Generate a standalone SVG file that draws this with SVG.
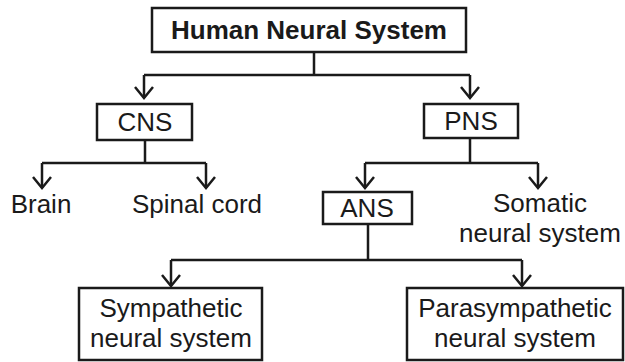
<svg xmlns="http://www.w3.org/2000/svg" width="625" height="362" viewBox="0 0 625 362">
<style>
.box{fill:#fff;stroke:#1a1a1a;stroke-width:2.5}
.ln{fill:none;stroke:#1a1a1a;stroke-width:2.5;stroke-linejoin:miter}
.t{font-family:"Liberation Sans",Arial,sans-serif;font-size:26px;fill:#1a1a1a;text-anchor:middle}
.b{font-weight:bold;font-size:26px}
</style>
<defs>
<marker id="ah" viewBox="-13 -11 15 22" refX="0" refY="0" markerWidth="15" markerHeight="22" markerUnits="userSpaceOnUse" orient="auto">
<path d="M-11,-9 L0,0 L-11,9" fill="none" stroke="#1a1a1a" stroke-width="2.5"/>
</marker>
</defs>
<rect width="625" height="362" fill="#fff"/>
<g id="connectors">
<path class="ln" d="M314,52 V75 M144,75 H470"/>
<path class="ln" d="M144,75 V98" marker-end="url(#ah)"/>
<path class="ln" d="M470,75 V98" marker-end="url(#ah)"/>
<path class="ln" d="M145,140 V163 M42,163 H206"/>
<path class="ln" d="M42,163 V188" marker-end="url(#ah)"/>
<path class="ln" d="M206,163 V188" marker-end="url(#ah)"/>
<path class="ln" d="M470,138 V163 M365,163 H538"/>
<path class="ln" d="M365,163 V188" marker-end="url(#ah)"/>
<path class="ln" d="M538,163 V188" marker-end="url(#ah)"/>
<path class="ln" d="M368,224 V260 M171,260 H522"/>
<path class="ln" d="M171,260 V286" marker-end="url(#ah)"/>
<path class="ln" d="M522,260 V286" marker-end="url(#ah)"/>
</g>
<g id="human">
<rect class="box" x="152" y="8" width="314" height="44"/>
<text class="t b" x="309" y="39">Human Neural System</text>
</g>
<g id="cns">
<rect class="box" x="97" y="104" width="95" height="36"/>
<text class="t" x="145" y="131">CNS</text>
</g>
<g id="pns">
<rect class="box" x="424" y="104" width="94" height="34"/>
<text class="t" x="471" y="130">PNS</text>
</g>
<g id="brain">
<text class="t" x="41" y="213">Brain</text>
</g>
<g id="spinal">
<text class="t" x="197" y="213">Spinal cord</text>
</g>
<g id="ans">
<rect class="box" x="323" y="192" width="89" height="32"/>
<text class="t" x="367" y="217">ANS</text>
</g>
<g id="somatic">
<text class="t" x="540" y="212">Somatic</text>
<text class="t" x="540" y="242">neural system</text>
</g>
<g id="sympathetic">
<rect class="box" x="79" y="288" width="183" height="72"/>
<text class="t" x="171" y="317">Sympathetic</text>
<text class="t" x="171" y="347">neural system</text>
</g>
<g id="parasympathetic">
<rect class="box" x="407" y="288" width="216" height="72"/>
<text class="t" x="515" y="317">Parasympathetic</text>
<text class="t" x="515" y="347">neural system</text>
</g>
</svg>
